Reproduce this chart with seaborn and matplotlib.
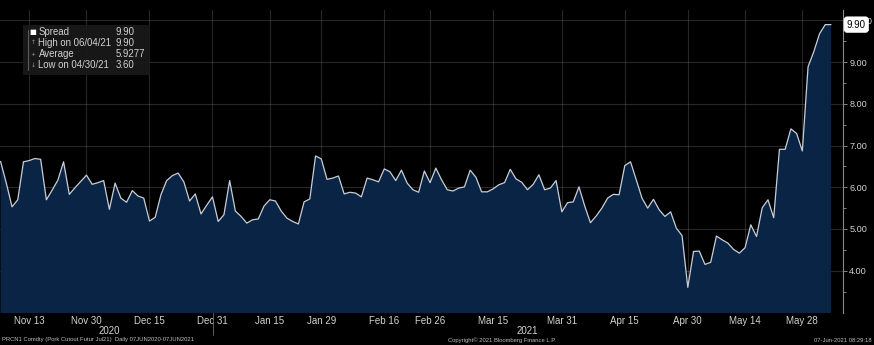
import numpy as np
import pandas as pd
import matplotlib
matplotlib.use("Agg")
import matplotlib.pyplot as plt
import matplotlib.transforms as mtrans
from matplotlib.patches import Rectangle
from matplotlib.lines import Line2D
import seaborn as sns

# ---------------- data ----------------
holidays = ["2020-11-26", "2020-12-25", "2021-01-01", "2021-01-18",
            "2021-02-15", "2021-05-31"]
dates = pd.bdate_range("2020-11-06", "2021-06-07", freq="C", holidays=holidays)

spread = [
    6.62, 6.10, 5.53, 5.70, 6.61, 6.64, 6.69, 6.67, 5.70, 5.93,
    6.17, 6.61, 5.83, 5.99, 6.14, 6.29, 6.07, 6.11, 6.16, 5.47,
    6.10, 5.74, 5.64, 5.92, 5.79, 5.74, 5.19, 5.28, 5.82, 6.16,
    6.28, 6.34, 6.13, 5.67, 5.84, 5.36, 5.57, 5.77, 5.18, 5.34,
    6.16, 5.43, 5.30, 5.14, 5.22, 5.24, 5.55, 5.70, 5.67, 5.43,
    5.26, 5.18, 5.12, 5.65, 5.72, 6.75, 6.68, 6.19,
    6.22, 6.27, 5.84, 5.88, 5.86, 5.77, 6.22, 6.18, 6.13, 6.44,
    6.37, 6.16, 6.41, 6.10, 5.94, 5.88, 6.39, 6.11, 6.46, 6.18,
    5.94, 5.91, 5.98, 6.01, 6.41, 6.24, 5.89, 5.89, 5.96, 6.06,
    6.11, 6.43, 6.20, 6.12, 5.94, 6.07, 6.30, 5.94, 5.98, 6.16,
    5.41, 5.63, 5.65, 6.01, 5.55, 5.15, 5.31, 5.50, 5.74, 5.83,
    5.82, 6.52, 6.61, 6.18, 5.74, 5.50, 5.71, 5.46, 5.30,
    5.41, 5.02, 4.84, 3.60, 4.46, 4.47, 4.15, 4.20, 4.83, 4.74,
    4.66, 4.51, 4.42, 4.55, 5.10, 4.82, 5.51, 5.70, 5.27, 6.91,
    6.91, 7.40, 7.29, 6.87, 8.89, 9.25, 9.68, 9.90, 9.90,
]

tick_dates = ["2020-11-13", "2020-11-30", "2020-12-15", "2020-12-31",
              "2021-01-15", "2021-01-29", "2021-02-16", "2021-02-26",
              "2021-03-15", "2021-03-31", "2021-04-15", "2021-04-30",
              "2021-05-14", "2021-05-28"]
tick_labels = ["Nov 13", "Nov 30", "Dec 15", "Dec 31", "Jan 15", "Jan 29",
               "Feb 16", "Feb 26", "Mar 15", "Mar 31", "Apr 15", "Apr 30",
               "May 14", "May 28"]
year_labels = ["2020", "2021"]
year_label_dates = ["2020-12-04", "2021-03-23"]
y_ticks = [4, 5, 6, 7, 8, 9, 10]

legend_names = ["Spread", "High on 06/04/21", "Average", "Low on 04/30/21"]
legend_values = ["9.90", "9.90", "5.9277", "3.60"]
legend_marks = ["\u25A0", "\u2191", "+", "\u2193"]
last_label = "9.90"
last_value = 9.90

footer_left = "PRCN1 Comdty (Pork Cutout Futur Jul21)  Daily 07JUN2020-07JUN2021"
footer_mid = "Copyright\u00a9 2021 Bloomberg Finance L.P."
footer_right = "07-Jun-2021 08:29:18"

# ---------------- style ----------------
sns.set_theme(style="dark")
plt.rcParams["font.family"] = ["Liberation Sans", "DejaVu Sans"]

BG = "#000000"
FILL = "#0a2445"
LINE = "#c8ced8"
TXT = "#d2d2d2"

W, H = 874, 345
fig = plt.figure(figsize=(W / 100, H / 100), dpi=100, facecolor=BG)


def fx(px):
    return px / W


def fy(py):
    return 1 - py / H


ax = fig.add_axes([0, fy(313), fx(843), fy(10) - fy(313)])
ax.set_facecolor(BG)

df = pd.DataFrame({"pos": np.arange(len(dates)), "date": dates, "spread": spread})

ax.fill_between(df["pos"], df["spread"], 0, color=FILL, lw=0, zorder=2)
sns.lineplot(data=df, x="pos", y="spread", ax=ax, color=LINE, lw=0.9,
             zorder=3, legend=False)

ax.set_xlim(-0.1, 147.1)
ax.set_ylim(2.985, 10.25)

# ticks
tick_pos = dates.get_indexer(pd.to_datetime(tick_dates))
ax.set_xticks(tick_pos)
ax.set_xticklabels(tick_labels)
ax.yaxis.tick_right()
ax.set_yticks(y_ticks)
ax.set_yticklabels([f"{v:.2f}" for v in y_ticks])
ax.set_yticks(np.arange(3.5, 10.3, 1.0), minor=True)
ax.tick_params(axis="x", colors="#8a8a8a", labelsize=7, length=1.5, width=0.6,
               pad=0.8, labelcolor=TXT)
ax.tick_params(axis="y", which="major", colors="#9a9a9a", labelsize=6.6,
               length=3, width=0.6, pad=1.5, labelcolor=TXT)
ax.tick_params(axis="y", which="minor", colors="#9a9a9a", length=2, width=0.6)
ax.set_xlabel("")
ax.set_ylabel("")

ax.grid(True, which="major", color="#707070", lw=0.8, alpha=0.35, zorder=4)
for gl in ax.get_xgridlines() + ax.get_ygridlines():
    gl.set_zorder(4)

for s in ["top", "left", "bottom"]:
    ax.spines[s].set_visible(False)
ax.spines["right"].set_color("#8a8a8a")
ax.spines["right"].set_linewidth(0.8)

# year labels
ypos = dates.get_indexer(pd.to_datetime(year_label_dates))
tr = mtrans.blended_transform_factory(ax.transData, fig.transFigure)
for lab, p in zip(year_labels, ypos):
    ax.text(p, fy(331.5), lab, transform=tr, ha="center", va="center",
            fontsize=7, color=TXT, clip_on=False)
# year separator
fig.add_artist(Line2D([fx(213), fx(213)], [fy(313), fy(335)],
                      color="#6a6a6a", lw=0.6))

# last value label
trb = mtrans.blended_transform_factory(ax.transAxes, ax.transData)
ax.text(1.0045, last_value, last_label, transform=trb, ha="left", va="center",
        fontsize=7, color="#000000", zorder=10, clip_on=False,
        bbox=dict(boxstyle="round,pad=0.28,rounding_size=0.3", fc="#ffffff",
                  ec="#ffffff", lw=0.5))

# legend box
fig.add_artist(Rectangle((fx(23), fy(75)), fx(150) - fx(23), fy(25) - fy(75),
                         transform=fig.transFigure, fc="#1a1a1a", ec="none",
                         alpha=0.9, zorder=20))
fig.add_artist(Line2D([fx(27.5), fx(27.5)], [fy(30), fy(70)],
                      color="#5a5a5a", lw=0.8, zorder=21))
rows = [32, 43, 54, 65]
for r, name, val, mk in zip(rows, legend_names, legend_values, legend_marks):
    if mk == "\u25A0":
        fig.text(fx(33), fy(r), mk, ha="center", va="center", fontsize=5.2,
                 color="#ffffff", zorder=22, family=["DejaVu Sans"])
    else:
        fig.text(fx(33), fy(r), mk, ha="center", va="center", fontsize=4.2,
                 color="#9a9a9a", zorder=22, family=["DejaVu Sans"])
    fig.text(fx(38.5), fy(r), name, ha="left", va="center", fontsize=6.9,
             color=TXT, zorder=22)
    fig.text(fx(116), fy(r), val, ha="left", va="center", fontsize=6.9,
             color=TXT, zorder=22)

# footer
fig.text(fx(2), fy(340), footer_left, ha="left", va="center", fontsize=4.2,
         color="#bdbdbd")
fig.text(fx(448), fy(340), footer_mid, ha="left", va="center", fontsize=4.2,
         color="#bdbdbd")
fig.text(fx(872), fy(340), footer_right, ha="right", va="center", fontsize=4.2,
         color="#bdbdbd")

fig.savefig("out.png", dpi=100, facecolor=BG)
